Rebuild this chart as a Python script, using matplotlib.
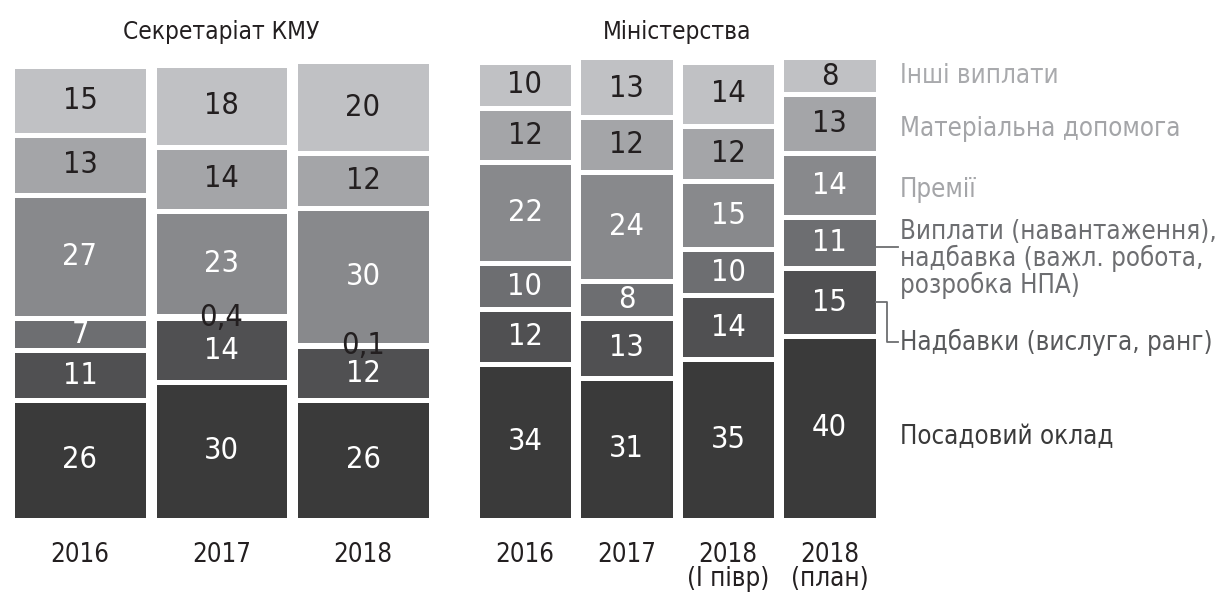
import matplotlib
matplotlib.use('Agg')
import matplotlib.pyplot as plt
import numpy as np

plt.rcParams['font.family'] = ['DejaVu Sans']
plt.rcParams['font.stretch'] = 'condensed'

# Stack order, bottom to top
categories = [
    'Посадовий оклад',
    'Надбавки (вислуга, ранг)',
    'Виплати (навантаження),\nнадбавка (важл. робота,\nрозробка НПА)',
    'Премії',
    'Матеріальна допомога',
    'Інші виплати',
]

kmu_years = ['2016', '2017', '2018']
kmu_values = [
    [26, 30, 26],
    [11, 14, 12],
    [7, 0.4, 0.1],
    [27, 23, 30],
    [13, 14, 12],
    [15, 18, 20],
]

min_years = ['2016', '2017', '2018\n(І півр)', '2018\n(план)']
min_values = [
    [34, 31, 35, 40],
    [12, 13, 14, 15],
    [10, 8, 10, 11],
    [22, 24, 15, 14],
    [12, 12, 12, 13],
    [10, 13, 14, 8],
]

colors = ['#3a3a3a', '#505052', '#6d6e71', '#88898c', '#a4a5a8', '#c0c1c4']
value_colors = ['white', 'white', 'white', 'white', '#231f20', '#231f20']
legend_colors = ['#3a3a3a', '#58595b', '#6d6e71', '#a4a5a8', '#a4a5a8', '#a9aaad']
legend_shift = [-2, -8.7, -3.5, -1.1, -1.1, 0]

W, H = 1219, 593
BAR_W = 0.955
TOP = 100.5


def fmt(v):
    return str(int(v)) if float(v).is_integer() else str(v).replace('.', ',')


def draw_panel(ax, years, values, title):
    x = np.arange(len(years))
    bottom = np.zeros(len(years))
    for vals, col, tcol in zip(values, colors, value_colors):
        vals = np.array(vals, dtype=float)
        bars = ax.bar(x, vals, width=BAR_W, bottom=bottom, color=col,
                      edgecolor='white', linewidth=3.6)
        texts = ax.bar_label(bars, labels=[fmt(v) for v in vals],
                             label_type='center', color=tcol, fontsize=22)
        for t, v in zip(texts, vals):
            if v < 1:
                t.set_color('#231f20')
        bottom += vals
    ax.set_xlim(-0.5, len(years) - 0.5)
    ax.set_ylim(0, TOP)
    ax.set_xticks(x, years, fontsize=18.5, color='#231f20')
    for t in ax.get_xticklabels():
        t.set_linespacing(0.9)
    ax.tick_params(length=0, pad=16)
    ax.set_yticks([])
    for s in ax.spines.values():
        s.set_visible(False)
    ax.set_title(title, fontsize=17.5, color='#231f20', pad=15)


fig = plt.figure(figsize=(W / 100, H / 100), dpi=100)
bottom_px, top_px = 519.5, 59.5
ax1 = fig.add_axes([9.25 / W, (H - bottom_px) / H, 424.5 / W, (bottom_px - top_px) / H])
ax2 = fig.add_axes([474.25 / W, (H - bottom_px) / H, 406 / W, (bottom_px - top_px) / H])

draw_panel(ax1, kmu_years, kmu_values, 'Секретаріат КМУ')
draw_panel(ax2, min_years, min_values, 'Міністерства')

# Category names beside the last bar
last = [v[-1] for v in min_values]
centers = np.cumsum(last) - np.array(last) / 2
text_x = 3.69
for name, c, shift, col in zip(categories, centers, legend_shift, legend_colors):
    ax2.text(text_x, c + shift, name, color=col, fontsize=18.5, ha='left',
             va='center', linespacing=0.99, clip_on=False)

# Connector lines for the two crowded labels
edge = 3 + BAR_W / 2 - 0.02
ax2.plot([edge, 3.67], [centers[2] - 1, centers[2] - 1], color='#6d6e71',
         lw=1.3, clip_on=False)
ax2.plot([edge, 3.565, 3.565, 3.67],
         [centers[1], centers[1], centers[1] + legend_shift[1], centers[1] + legend_shift[1]],
         color='#6d6e71', lw=1.3, clip_on=False)

fig.savefig('out.png', dpi=100)
